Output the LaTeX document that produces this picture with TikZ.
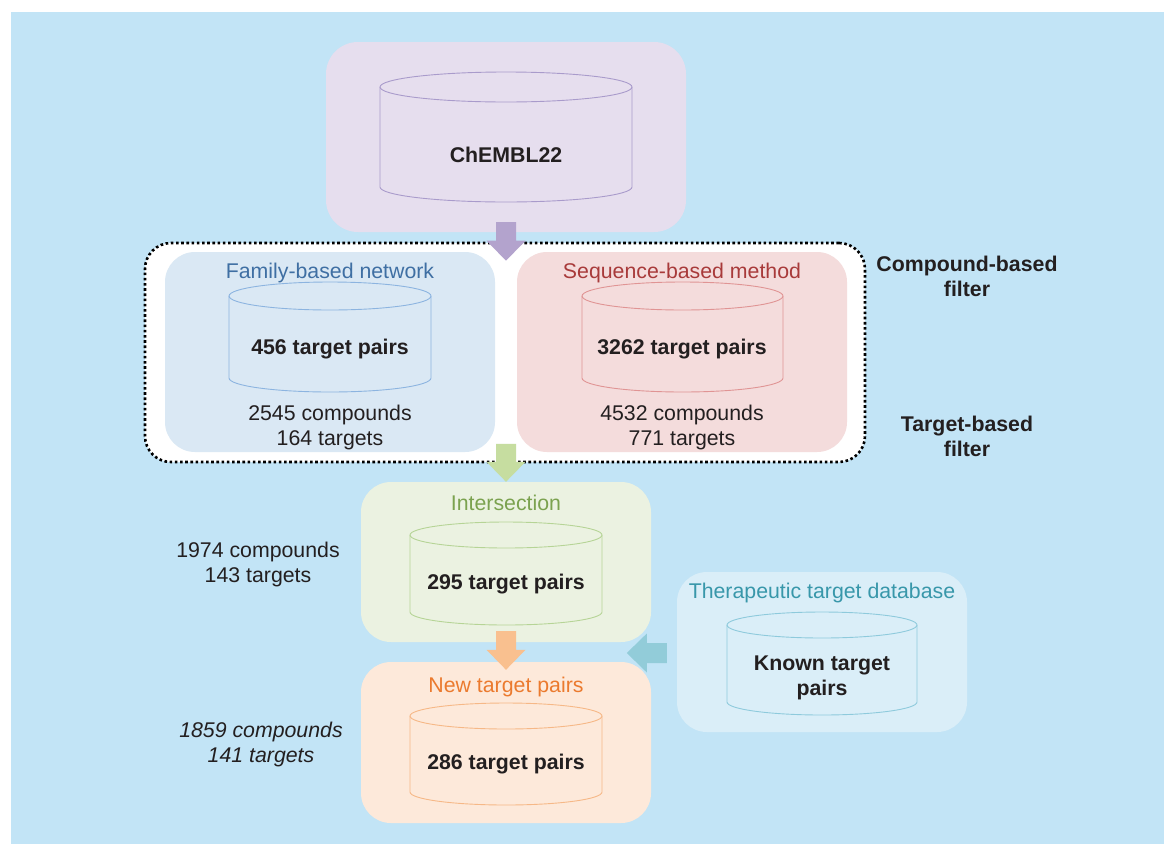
\documentclass[tikz,border=0pt]{standalone}
\usepackage{fontspec}
\setmainfont{Liberation Sans}
\usetikzlibrary{calc}
\definecolor{bg}{HTML}{C2E4F6}
\definecolor{txt}{HTML}{231F20}
\definecolor{chfill}{HTML}{E6DEEE}\definecolor{chline}{HTML}{A99BCB}\definecolor{charrow}{HTML}{B3A3CD}
\definecolor{fafill}{HTML}{DAE8F4}\definecolor{faline}{HTML}{8CB4E0}\definecolor{fatitle}{HTML}{3F6FA3}
\definecolor{sefill}{HTML}{F4DCDC}\definecolor{seline}{HTML}{E09494}\definecolor{setitle}{HTML}{A83A3A}
\definecolor{infill}{HTML}{EBF2E1}\definecolor{inline}{HTML}{B6D496}\definecolor{intitle}{HTML}{7BA24F}\definecolor{inarrow}{HTML}{C6DDA0}
\definecolor{nefill}{HTML}{FDE9DA}\definecolor{neline}{HTML}{F6B887}\definecolor{netitle}{HTML}{EB7A2E}\definecolor{nearrow}{HTML}{F9C08F}
\definecolor{thfill}{HTML}{DAEEF8}\definecolor{thline}{HTML}{8ECADC}\definecolor{thtitle}{HTML}{3897AA}\definecolor{tharrow}{HTML}{92CCD9}
\newcommand\cyl[6]{%
  \pgfmathsetmacro\cylcx{(#2+#3)/2}\pgfmathsetmacro\cylrx{(#3-#2)/2}%
  \draw[#1, line width=0.9pt] (\cylcx,#4) ellipse [x radius=\cylrx pt, y radius=#6pt];
  \draw[#1, line width=0.9pt] (#2,#4) -- (#2,#5) arc[start angle=180, end angle=360, x radius=\cylrx pt, y radius=#6pt] -- (#3,#4);
}
\newcommand\blkdown[3]{\fill[#1] let \p1=(#2), \p2=(#3) in
  (\x1-10pt,\y1) -- (\x1+10pt,\y1) -- (\x1+10pt,\y2+20pt) -- (\x1+19.5pt,\y2+20pt) -- (\x1,\y2)
  -- (\x1-19.5pt,\y2+20pt) -- (\x1-10pt,\y2+20pt) -- cycle;}
\newcommand\blkleft[3]{\fill[#1] let \p1=(#2), \p2=(#3) in
  (\x1,\y1+10pt) -- (\x1,\y1-10pt) -- (\x2+20pt,\y1-10pt) -- (\x2+20pt,\y1-19.5pt) -- (\x2,\y1)
  -- (\x2+20pt,\y1+19.5pt) -- (\x2+20pt,\y1+10pt) -- cycle;}
\tikzset{
  panel/.style={draw=none, rounded corners=32pt, inner sep=0pt},
  title/.style={inner sep=0pt, font=\fontsize{21.3}{25}\selectfont},
  bigtxt/.style={inner sep=0pt, text=txt, align=center, font=\fontsize{21.3}{25}\selectfont\bfseries},
  plain/.style={inner sep=0pt, text=txt, align=center, font=\fontsize{21.3}{25}\selectfont},
}
\begin{document}
\begin{tikzpicture}[x=1pt,y=-1pt]
\useasboundingbox (0,0) rectangle (1164,844);
\fill[white] (0,0) rectangle (1164,844);
\fill[bg] (11,12) rectangle (1164,844);

% ChEMBL
\node[panel, fill=chfill, minimum width=360pt, minimum height=190pt] (chembl) at (506,137) {};
\cyl{chline}{380}{632}{87}{187}{15}
\node[bigtxt] (chtxt) at (506,155) {ChEMBL22};

% dotted filter box
\node[draw=black, line width=2.6pt, dash pattern=on 2.6pt off 2.6pt, fill=white, rounded corners=26pt,
      minimum width=720pt, minimum height=219pt, inner sep=0pt] (filter) at (505,352.5) {};

% family
\node[panel, fill=fafill, minimum width=330pt, minimum height=200pt, rounded corners=30pt] (family) at (330,352) {};
\node[title, text=fatitle] (fatitle) at (330,273) {Family-based network};
\cyl{faline}{229}{431}{296}{378}{14}
\node[bigtxt] (fatxt) at (330,349) {456 target pairs};
\node[plain] (fastats) at (330,427.5) {2545 compounds\\164 targets};

% sequence
\node[panel, fill=sefill, minimum width=330pt, minimum height=200pt, rounded corners=30pt] (sequence) at (682,352) {};
\node[title, text=setitle] (setitle) at (682,273) {Sequence-based method};
\cyl{seline}{582}{783}{296}{378}{14}
\node[bigtxt] (setxt) at (682,349) {3262 target pairs};
\node[plain] (sestats) at (682,427.5) {4532 compounds\\771 targets};

% side labels
\node[bigtxt] (cfilter) at (967,276.5) {Compound-based\\filter};
\node[bigtxt] (tfilter) at (967,436.5) {Target-based\\filter};

% intersection
\node[panel, fill=infill, minimum width=290pt, minimum height=160pt, rounded corners=30pt] (inter) at (506,562) {};
\node[title, text=intitle] (intitle) at (506,503) {Intersection};
\cyl{inline}{410}{602}{535}{612}{13}
\node[bigtxt] (intxt) at (506,584) {295 target pairs};
\node[plain] (instats) at (258,564) {1974 compounds\\143 targets};

% new target pairs
\node[panel, fill=nefill, minimum width=290pt, minimum height=161pt, rounded corners=30pt] (new) at (506,742.5) {};
\node[title, text=netitle] (netitle) at (506,687) {New target pairs};
\cyl{neline}{410}{602}{716}{792}{13}
\node[bigtxt] (netxt) at (506,764) {286 target pairs};
\node[plain, font=\fontsize{21.3}{25}\selectfont\itshape] (nestats) at (261,744.5) {1859 compounds\\141 targets};

% therapeutic
\node[panel, fill=thfill, minimum width=290pt, minimum height=160pt, rounded corners=30pt] (ther) at (822,652) {};
\node[title, text=thtitle] (thtitle) at (822,593) {Therapeutic target database};
\cyl{thline}{727}{917}{625}{702}{13}
\node[bigtxt] (thtxt) at (822,678) {Known target\\pairs};

% arrows
\coordinate (a1s) at ($(chembl.south)+(0,-10)$);
\coordinate (a1e) at ($(filter.north)+(1,19)$);
\blkdown{charrow}{a1s}{a1e}
\coordinate (a2s) at ($(filter.south)+(1,-19.5)$);
\coordinate (a2e) at (inter.north);
\blkdown{inarrow}{a2s}{a2e}
\coordinate (a3s) at ($(inter.south)+(0,-11)$);
\coordinate (a3e) at ($(new.north)+(0,8)$);
\blkdown{nearrow}{a3s}{a3e}
\coordinate (a4s) at ($(ther.west)+(-10,1)$);
\coordinate (a4e) at ($(ther.west)+(-50,1)$);
\blkleft{tharrow}{a4s}{a4e}
\end{tikzpicture}
\end{document}
